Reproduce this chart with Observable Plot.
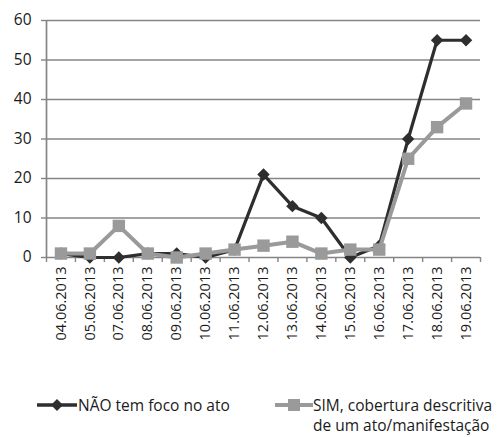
<!DOCTYPE html>
<html>
<head>
<meta charset="utf-8">
<script src="https://cdn.jsdelivr.net/npm/d3@7"></script>
<script src="https://cdn.jsdelivr.net/npm/@observablehq/plot@0.6"></script>
<style>
  body { margin: 0; background: white; font-family: "Open Sans", sans-serif; }
  #wrap { position: relative; width: 497px; height: 437px; }
  .leg { position: absolute; font-size: 15.5px; color: #1a1a1a; line-height: 20px; }
  .leg svg { position: absolute; }
</style>
</head>
<body>
<div id="wrap">
  <div id="chart"></div>
  <div class="leg" style="left:37px; top:395px;">
    <svg width="40" height="20" style="left:0; top:0;">
      <line x1="0" y1="10" x2="40" y2="10" stroke="#2e2e2e" stroke-width="3.5"></line>
      <path d="M20 4 L26 10 L20 16 L14 10 Z" fill="#2e2e2e"></path>
    </svg>
    <span style="position:absolute; left:41px; top:0; white-space:nowrap;">NÃO tem foco no ato</span>
  </div>
  <div class="leg" style="left:275px; top:395px;">
    <svg width="38" height="20" style="left:0; top:0;">
      <line x1="0" y1="10" x2="38" y2="10" stroke="#9a9a9a" stroke-width="4"></line>
      <rect x="13" y="4" width="12" height="12" fill="#9a9a9a"></rect>
    </svg>
    <span style="position:absolute; left:38px; top:0; white-space:nowrap;">SIM, cobertura descritiva<br>de um ato/manifestação</span>
  </div>
</div>
<script>
const dates = ["04.06.2013","05.06.2013","07.06.2013","08.06.2013","09.06.2013","10.06.2013","11.06.2013","12.06.2013","13.06.2013","14.06.2013","15.06.2013","16.06.2013","17.06.2013","18.06.2013","19.06.2013"];
const naoValues = [1, 0, 0, 1, 1, 0, 2, 21, 13, 10, 0, 3, 30, 55, 55];
const simValues = [1, 1, 8, 1, 0, 1, 2, 3, 4, 1, 2, 2, 25, 33, 39];
const yTicks = [0, 10, 20, 30, 40, 50, 60];

const nao = dates.map((d, i) => ({i, date: d, v: naoValues[i]}));
const sim = dates.map((d, i) => ({i, date: d, v: simValues[i]}));
const idx = dates.map((d, i) => i);
const bounds = d3.range(dates.length + 1).map(k => k - 0.5);

const grid = "#858585";

const chart = Plot.plot({
  width: 497,
  height: 375,
  marginLeft: 46,
  marginRight: 17,
  marginTop: 20,
  marginBottom: 118,
  style: {fontFamily: "Open Sans", fontSize: "15px", color: "#1a1a1a", background: "white"},
  x: {domain: [-0.5, dates.length - 0.5], axis: null},
  y: {domain: [0, 60], axis: null},
  marks: [
    Plot.ruleY(yTicks.filter(t => t > 0), {stroke: grid, strokeWidth: 1.7}),
    Plot.ruleX([-0.5], {stroke: grid, strokeWidth: 1.7}),
    Plot.ruleY([0], {stroke: grid, strokeWidth: 1.7}),
    Plot.ruleY(yTicks, {x1: -0.5, x2: -0.5, insetLeft: -5, stroke: grid, strokeWidth: 1.4}),
    Plot.ruleX(bounds, {y1: 0, y2: 0, insetBottom: -5, stroke: grid, strokeWidth: 1.4}),
    Plot.text(yTicks, {x: -0.5, y: d => d, text: d => String(d), textAnchor: "end", dx: -15, fill: "#1a1a1a", fontSize: 15.5}),
    Plot.text(idx, {x: d => d, y: 0, text: d => dates[d], rotate: -90, textAnchor: "end", dy: 9, fill: "#1a1a1a", fontSize: 14.5}),
    Plot.line(nao, {x: "i", y: "v", stroke: "#2e2e2e", strokeWidth: 3.2}),
    Plot.dot(nao, {x: "i", y: "v", symbol: "diamond2", r: 5.6, fill: "#2e2e2e", stroke: "none"}),
    Plot.line(sim, {x: "i", y: "v", stroke: "#9a9a9a", strokeWidth: 4}),
    Plot.dot(sim, {x: "i", y: "v", symbol: "square", r: 7, fill: "#9a9a9a", stroke: "none"})
  ]
});
document.getElementById("chart").appendChild(chart);
</script>
</body>
</html>
